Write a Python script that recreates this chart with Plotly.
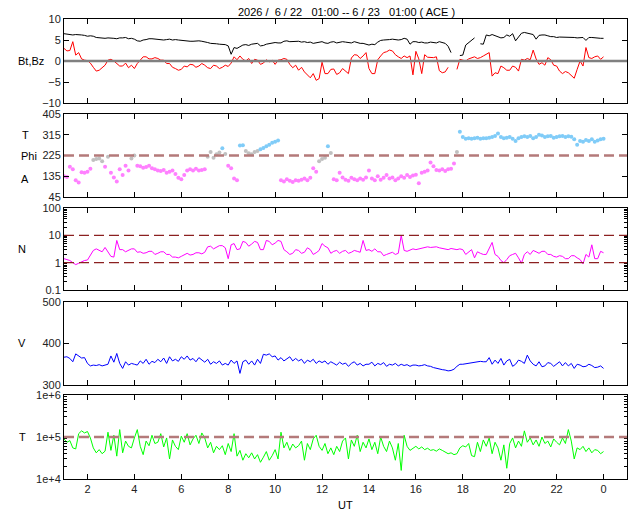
import numpy as np
import plotly.graph_objects as go

# ---- dados, passo de 7.5 min: 8 valores por hora, 1h .. 24h ----
bt = [
    6.5, 6.4, 6.3, 6.2, 6.3, 6.3, 6.2, 6.1,    # 1h
    5.9, 6.0, 5.9, 5.6, 5.5, 5.5, 5.4, 5.5,    # 2h
    5.5, 5.4, 5.3, 5.5, 5.5, 5.6, 5.3, 5.4,    # 3h
    5.2, 4.8, 4.7, 5.0, 5.1, 5.3, 5.3, 5.2,    # 4h
    5.2, 5.1, 5.0, 5.1, 5.2, 5.0, 5.1, 5.0,    # 5h
    4.9, 4.8, 4.8, 4.7, 4.7, 4.8, 4.8, 4.7,    # 6h
    4.6, 4.4, 4.2, 4.2, 4.1, 4.0, 4.0, 3.9,    # 7h
    3.6, 1.6, 3.2, 3.0, 3.4, 3.8, 3.9, 3.7,    # 8h
    4.0, 4.1, 4.2, 3.6, 3.7, 4.0, 4.1, 4.3,    # 9h
    4.4, 4.3, 4.3, 4.7, 4.8, 4.6, 4.6, 4.7,    # 10h
    4.7, 4.5, 4.6, 4.4, 4.5, 4.2, 4.3, 4.5,    # 11h
    4.6, 4.3, 4.2, 4.5, 4.6, 4.3, 4.4, 4.6,    # 12h
    4.5, 4.4, 4.3, 4.6, 4.4, 4.2, 4.2, 4.0,    # 13h
    3.8, 4.0, 3.9, 4.5, 4.9, 5.0, 5.0, 5.1,    # 14h
    5.2, 5.1, 5.0, 5.1, 5.4, 5.2, 4.0, 4.6,    # 15h
    4.6, 4.4, 4.5, 4.3, 4.3, 4.5, 4.4, 4.3,    # 16h
    4.6, 4.4, 4.2, 3.5, 2.0, None, None, 1.3,  # 17h
    1.4, 3.8, 4.3, 5.0, 5.5, None, 4.1, 4.0,   # 18h
    6.2, 6.0, 6.3, 6.0, 5.8, 5.5, 5.6, 6.2,    # 19h
    5.9, 6.5, 4.8, 5.6, 6.6, 6.8, 6.6, 6.5,    # 20h
    6.3, 5.2, 6.1, 6.2, 6.2, 6.0, 5.8, 5.8,    # 21h
    5.6, 5.7, 5.7, 5.6, 5.6, 5.7, 5.6, 5.5,    # 22h
    5.5, 5.6, 4.9, 5.6, 5.6, 5.5, 5.5, 5.4,    # 23h
    5.4,
]
bz = [
    3.0, 2.4, 2.5, 4.6, 1.4, 2.0, 0.5, 0.2,
    0.1, -0.5, -1.5, -2.4, -2.2, -1.6, -1.0, 0.2,
    0.4, 0.0, -0.6, -1.2, -1.2, -0.5, -1.6, -1.0,
    -1.8, -0.6, 0.2, 1.0, 1.0, 0.5, 0.5, 0.8,
    0.6, 0.2, 0.2, -0.6, -0.6, -1.5, -1.8, -2.2,
    -2.0, -1.2, -1.4, -0.8, -0.9, -1.5, -1.2, -0.6,
    -1.0, -1.6, -1.8, -1.0, -1.2, -1.8, -1.5, -1.0,
    -1.3, -0.5, 1.0, 0.3, 1.2, 0.4, 0.0, 0.6,
    -0.6, 0.4, 0.2, -0.8, -0.5, 0.3, -0.2, 0.2,
    -0.8, 0.2, 0.3, 0.6, 0.4, -0.8, -1.6, -1.0,
    -2.2, -1.5, -2.6, -3.2, -4.0, -3.0, -4.6, -4.2,
    -0.3, -3.0, -3.0, -2.0, -1.9, -3.2, -2.8, -1.8,
    -2.5, -3.0, 0.7, 1.5, 1.4, 0.6, 1.2, 2.0,
    -1.8, -3.0, -3.0, 0.3, 1.2, 2.0, 2.2, 2.6,
    2.4, 1.5, 1.0, 0.6, 1.2, 0.8, 1.2, -3.3,
    2.3, 0.5, -3.0, 1.5, 0.9, 0.8, 0.8, 1.0,
    -2.3, -2.8, -2.6, -1.5, None, None, -2.0, 0.4,
    0.2, 0.0, 0.5, 0.8, 1.0, 0.6, 0.8, 1.2,
    1.6, 2.0, -3.6, -2.8, -3.0, -1.2, -1.6, -2.2,
    -2.2, -1.2, -1.5, -2.4, 0.4, 0.2, 0.6, 0.3,
    2.6, 0.5, -0.8, -0.4, -1.0, 0.8, 0.3, -1.0,
    -1.2, -2.4, -3.0, -2.5, -2.8, -3.4, -4.1, -2.0,
    0.0, -1.2, 3.2, 0.8, 0.6, 1.0, 1.2, 0.4,
    1.0,
]
phi = [
    135, 132, 176, 165, 118, 108, 152, 150,
    155, 168, 205, 210, 212, 200, 176, 220,
    150, 130, 112, 165, 140, 180, 160, 212,
    225, 180, 178, 172, 175, 180, 170, 165,
    160, 158, 162, 150, 155, 160, 145, 128,
    122, 140, 160, 165, 160, 168, 160, 162,
    165, 220, 240, 215, 230, 238, 256, 232,
    180, 170, 125, 118, 268, 270, 245, 235,
    230, 240, 245, 252, 258, 265, 272, 280,
    285, 290, 118, 112, 122, 115, 110, 118,
    115, 120, 125, 118, 128, 170, 155, 200,
    210, 215, 265, 236, 122, 118, 150, 130,
    120, 115, 128, 122, 118, 125, 120, 130,
    160, 125, 118, 135, 120, 128, 140, 125,
    130, 118, 125, 135, 128, 140, 132, 138,
    142, 105, 150, 155, 160, 195, 178, 162,
    160, 165, 158, 165, 168, 190, 240, 328,
    305, 298, 300, 298, 300, 302, 298, 300,
    300, 302, 305, 310, 320, 305, 300, 302,
    305, 298, 288, 300, 305, 308, 305, 310,
    300, 305, 315, 312, 305, 308, 310, 302,
    305, 308, 310, 305, 308, 306, 295, 272,
    288, 285, 292, 288, 295, 285, 290, 295,
    298,
]
dens = [
    1.4, 1.3, 1.2, 1.0, 0.85, 0.95, 1.1, 1.2,
    1.25, 2.0, 2.8, 3.2, 2.9, 2.5, 3.6, 2.6,
    1.7, 1.6, 6.5, 3.0, 3.0, 2.5, 2.8, 3.2,
    3.2, 2.4, 2.5, 2.2, 2.3, 2.6, 2.6, 2.0,
    2.2, 2.5, 2.5, 2.0, 2.0, 1.6, 1.6, 1.5,
    1.7, 1.9, 2.2, 1.9, 2.0, 2.3, 2.3, 2.1,
    2.4, 3.8, 4.0, 3.2, 3.6, 4.2, 4.2, 3.5,
    1.4, 4.5, 5.0, 3.0, 3.2, 6.0, 5.5, 4.0,
    4.8, 6.0, 5.5, 3.0, 3.0, 6.5, 6.0, 4.5,
    5.2, 6.5, 6.0, 3.0, 2.5, 2.0, 2.2, 3.0,
    2.8, 2.2, 2.4, 3.5, 3.0, 2.0, 2.3, 2.8,
    5.0, 4.0, 3.5, 2.2, 2.6, 2.8, 2.2, 2.6,
    2.8, 2.2, 2.4, 2.8, 2.6, 2.4, 6.5, 2.8,
    3.0, 2.6, 3.2, 2.5, 2.5, 1.8, 2.0, 2.2,
    2.4, 2.0, 2.2, 10.0, 2.8, 2.6, 2.8, 3.2,
    3.0, 3.2, 3.4, 3.6, 3.8, 3.6, 3.6, 3.8,
    3.5, 3.3, 3.2, 3.0, 3.3, 3.1, 3.0, 3.2,
    3.0, 2.0, 2.5, 3.0, 1.5, 2.5, 2.2, 2.0,
    2.0, 3.5, 5.5, 2.0, 1.7, 1.2, 1.0, 1.3,
    1.8, 2.0, 2.2, 1.5, 0.95, 2.0, 2.5, 2.0,
    2.8, 2.5, 2.2, 2.6, 2.6, 2.0, 2.0, 1.7,
    1.6, 1.8, 1.7, 1.4, 1.4, 1.8, 1.8, 1.5,
    1.3, 0.9, 2.0, 1.6, 4.5, 1.4, 1.4, 2.6,
    2.3,
]
vel = [
    367, 368, 364, 356, 375, 370, 365, 366,
    352, 346, 348, 347, 349, 346, 348, 350,
    370, 355, 376, 352, 340, 356, 348, 352,
    350, 348, 358, 352, 362, 350, 357, 354,
    362, 356, 365, 352, 368, 358, 362, 357,
    368, 362, 370, 360, 364, 356, 366, 360,
    355, 362, 350, 356, 352, 358, 348, 352,
    348, 360, 352, 358, 328, 356, 360, 350,
    358, 348, 362, 352, 374, 372, 375, 368,
    370, 360, 366, 358, 362, 368, 358, 364,
    358, 362, 352, 360, 356, 362, 352, 358,
    354, 358, 350, 356, 352, 348, 355, 350,
    353, 345, 352, 356, 348, 352, 346, 350,
    350, 355, 346, 352, 349, 354, 345, 350,
    348, 352, 346, 350, 347, 349, 345, 348,
    348, 346, 347, 349, 346, 345, 342, 340,
    338, 337, 336, 334, 335, 338, 345, 350,
    350, 351, 352, 353, 355, 356, 357, 356,
    356, 366, 350, 360, 352, 364, 348, 358,
    362, 345, 350, 360, 357, 352, 372, 358,
    350, 346, 356, 344, 346, 354, 352, 345,
    350, 356, 346, 354, 346, 352, 340, 350,
    348, 344, 345, 350, 347, 342, 343, 346,
    340,
]
temp = [
    90000, 75000, 82000, 55000, 52000, 120000, 140000, 125000,
    135000, 95000, 55000, 42000, 50000, 40000, 46000, 130000,
    48000, 110000, 35000, 150000, 42000, 80000, 60000, 55000,
    95000, 150000, 60000, 38000, 80000, 62000, 110000, 70000,
    75000, 120000, 58000, 95000, 30000, 85000, 60000, 50000,
    105000, 75000, 120000, 65000, 90000, 110000, 70000, 125000,
    95000, 55000, 75000, 42000, 60000, 50000, 62000, 38000,
    70000, 45000, 120000, 35000, 48000, 28000, 40000, 32000,
    42000, 30000, 38000, 25000, 33000, 45000, 28000, 36000,
    50000, 30000, 130000, 55000, 75000, 48000, 68000, 55000,
    62000, 80000, 28000, 70000, 50000, 90000, 110000, 60000,
    48000, 70000, 40000, 55000, 38000, 60000, 45000, 80000,
    95000, 30000, 85000, 60000, 110000, 45000, 75000, 55000,
    90000, 50000, 75000, 40000, 100000, 60000, 45000, 80000,
    55000, 28000, 70000, 16000, 110000, 60000, 48000, 55000,
    60000, 52000, 58000, 50000, 54000, 48000, 50000, 46000,
    52000, 48000, 44000, 40000, 42000, 38000, 40000, 55000,
    62000, 58000, 70000, 36000, 34000, 75000, 45000, 85000,
    60000, 95000, 40000, 75000, 55000, 28000, 65000, 18000,
    70000, 95000, 55000, 80000, 60000, 140000, 75000, 95000,
    65000, 85000, 60000, 100000, 70000, 80000, 58000, 90000,
    75000, 65000, 95000, 70000, 150000, 80000, 30000, 55000,
    50000, 60000, 45000, 55000, 42000, 50000, 48000, 40000,
    45000,
]

hour_ticks = list(range(2, 25, 2))
hour_labels = [str(h % 24) for h in hour_ticks]
title_txt = "2026 /&nbsp; 6 / 22 &nbsp; 01:00 -- 6 / 23 &nbsp; 01:00 ( ACE )"

t = 1 + 0.125 * np.arange(len(bt))

FONT = "Liberation Sans, Arial, sans-serif"
DASH_COLOR = "#b47a7a"
W, H = 640, 512
L, R, T, B = 64, 13, 19, 33

# cores do angulo phi (setores)
phi_colors = []
for p in phi:
    if p < 200:
        phi_colors.append("#ff80ff")
    elif p < 250:
        phi_colors.append("#c0c0c0")
    else:
        phi_colors.append("#80ccf8")

fig = go.Figure()
fig.add_trace(go.Scatter(x=t, y=bt, mode="lines", line=dict(color="black", width=1), xaxis="x", yaxis="y"))
fig.add_trace(go.Scatter(x=t, y=bz, mode="lines", line=dict(color="#ff0000", width=1), xaxis="x", yaxis="y"))
fig.add_trace(go.Scatter(x=t, y=phi, mode="markers", marker=dict(color=phi_colors, size=4),
                         xaxis="x2", yaxis="y2"))
fig.add_trace(go.Scatter(x=t, y=dens, mode="lines", line=dict(color="#ff00ff", width=1), xaxis="x3", yaxis="y3"))
fig.add_trace(go.Scatter(x=t, y=vel, mode="lines", line=dict(color="#0000ff", width=1), xaxis="x4", yaxis="y4"))
fig.add_trace(go.Scatter(x=t, y=temp, mode="lines", line=dict(color="#00ff00", width=1), xaxis="x5", yaxis="y5"))

# dominios dos paineis em pixels (topo, base)
panels = [(19, 103), (114, 197), (208, 290), (302, 385), (395, 479)]
def py2paper(py):
    return (H - B - py) / (H - T - B)
def px2paper(px):
    return (px - L) / (W - L - R)

axis_common = dict(showline=True, linecolor="black", linewidth=1, mirror="allticks",
                   ticks="inside", ticklen=5, tickcolor="black", showgrid=False, zeroline=False,
                   tickfont=dict(family=FONT, size=11, color="#222222"))

layout = dict(
    width=W, height=H,
    margin=dict(l=L, r=R, t=T, b=B),
    paper_bgcolor="white", plot_bgcolor="white",
    showlegend=False,
    font=dict(family=FONT, size=11, color="black"),
)
for i in range(5):
    n = "" if i == 0 else str(i + 1)
    top, bot = panels[i]
    layout["xaxis" + n] = dict(axis_common, range=[1, 25], tickvals=hour_ticks, ticktext=hour_labels,
                               showticklabels=(i == 4), anchor="y" + n, domain=[0, 1],
                               matches=None if i == 0 else "x")
    layout["yaxis" + n] = dict(axis_common, anchor="x" + n, domain=[py2paper(bot), py2paper(top)])

layout["yaxis"].update(range=[-10, 10], tickvals=[-10, -5, 0, 5, 10])
layout["yaxis2"].update(range=[45, 405], tickvals=[45, 135, 225, 315, 405])
minor_n = [m * 10.0 ** e for e in (-1, 0, 1) for m in range(2, 10)]
layout["yaxis3"].update(type="log", range=[-1, 2], tickvals=[0.1, 1, 10, 100],
                        ticktext=["0.1", "1", "10", "100"],
                        minor=dict(tickvals=minor_n, ticks="inside", ticklen=3, tickcolor="black"))
layout["yaxis4"].update(range=[300, 500], tickvals=[300, 400, 500])
minor_t = [m * 10.0 ** e for e in (4, 5) for m in range(2, 10)]
layout["yaxis5"].update(type="log", range=[4, 6], tickvals=[1e4, 1e5, 1e6],
                        ticktext=["1e+4", "1e+5", "1e+6"],
                        minor=dict(tickvals=minor_t, ticks="inside", ticklen=3, tickcolor="black"))

fig.update_layout(**layout)

# linha do zero e linhas tracejadas de referencia
fig.add_shape(type="line", xref="x domain", yref="y", x0=0, x1=1, y0=0, y1=0,
              line=dict(color="#808080", width=2.5))
fig.add_shape(type="line", xref="x2 domain", yref="y2", x0=0, x1=1, y0=225, y1=225,
              line=dict(color=DASH_COLOR, width=2.5, dash="10px,5px"))
for lvl in (1, 10):
    fig.add_shape(type="line", xref="x3 domain", yref="y3", x0=0, x1=1, y0=lvl, y1=lvl,
                  line=dict(color="#8b2020", width=1.2, dash="10px,5px"))
fig.add_shape(type="line", xref="x5 domain", yref="y5", x0=0, x1=1, y0=1e5, y1=1e5,
              line=dict(color=DASH_COLOR, width=2.5, dash="10px,5px"))

# rotulos dos eixos (texto a esquerda), posicoes em pixels
labels = [("Bt,Bz", 31, 61), ("T", 25, 135), ("Phi", 29, 156), ("A", 25, 179),
          ("N", 22, 249), ("V", 22, 343), ("T", 22, 437),
          ("UT", 345, 505), (title_txt, 346, 12)]
for txt, px, py in labels:
    fig.add_annotation(text=txt, x=px2paper(px), y=py2paper(py), xref="paper", yref="paper",
                       xanchor="center", yanchor="middle", showarrow=False,
                       font=dict(family=FONT, size=11, color="black"))

# sem margem do body e sem barra de ferramentas
fig.write_html("out.html", config={"displayModeBar": False},
               post_script="document.body.style.margin='0px';")
